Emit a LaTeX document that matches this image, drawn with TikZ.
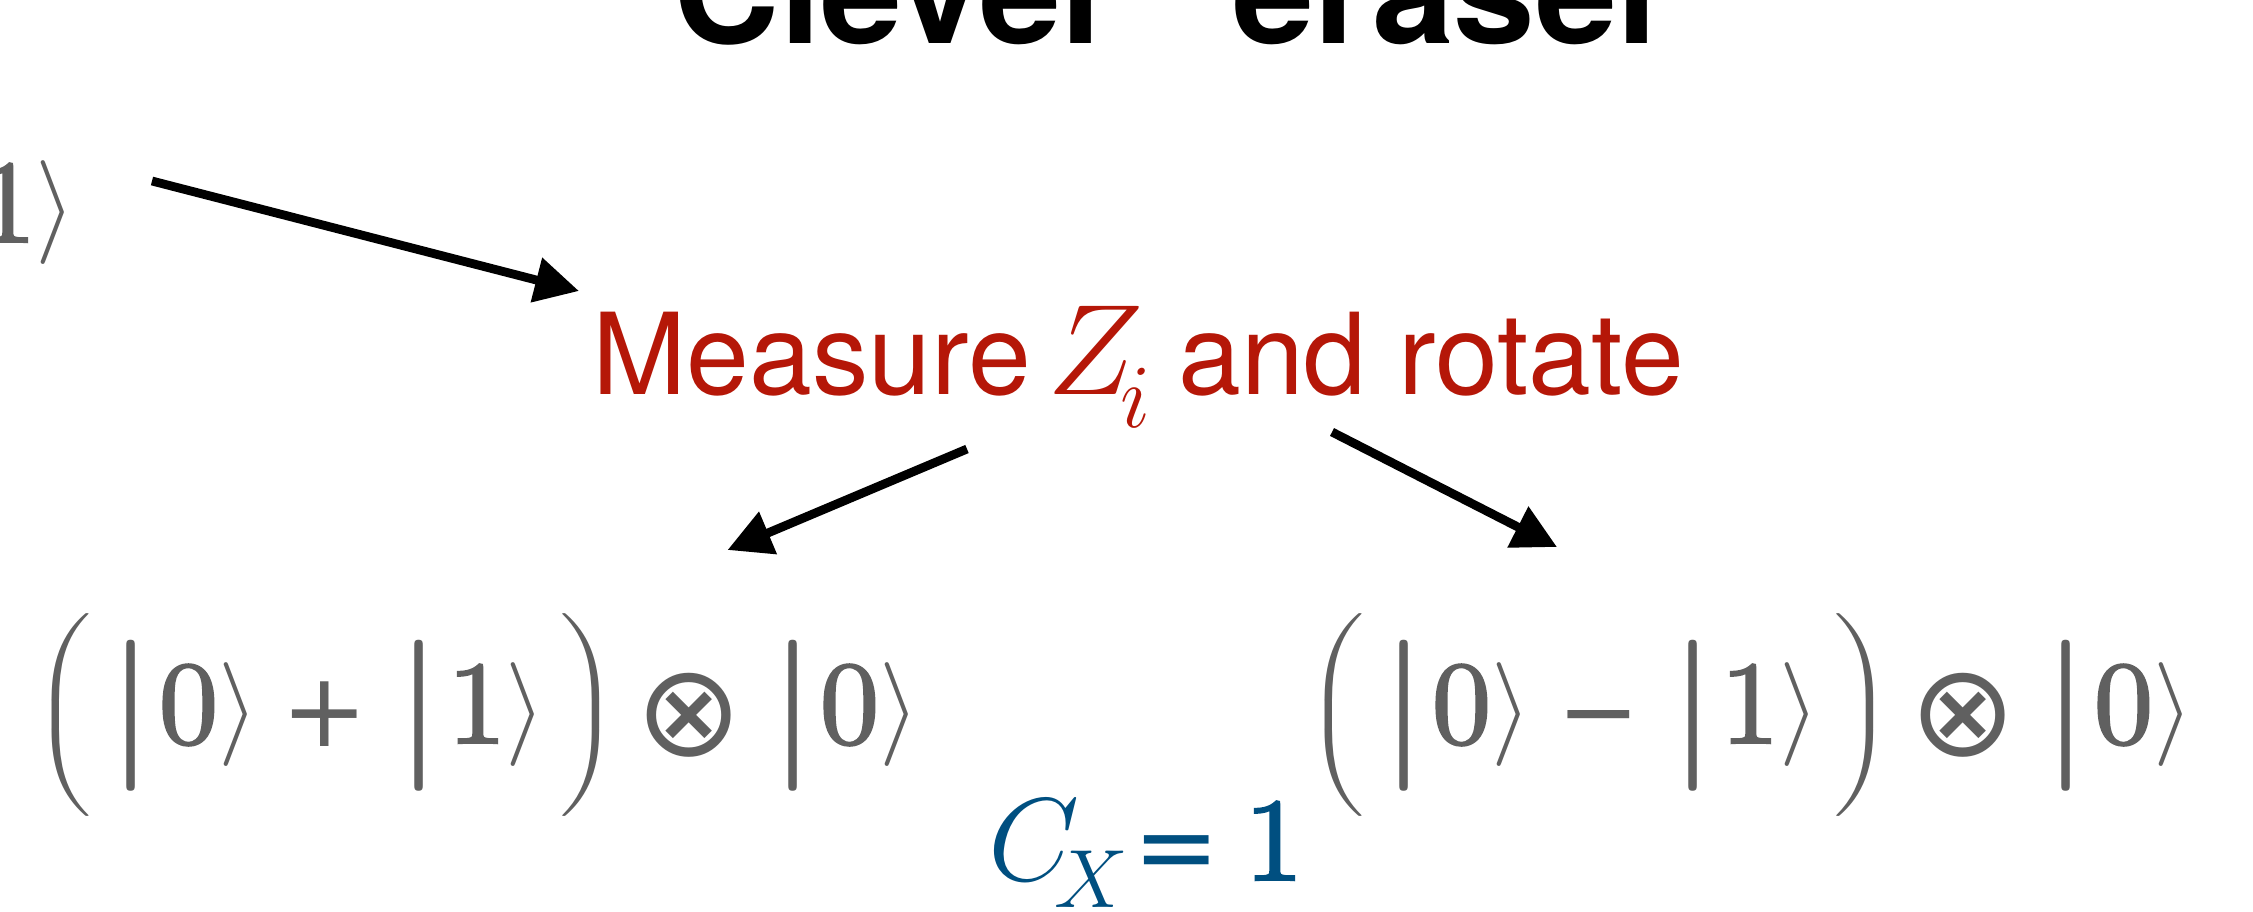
\RequirePackage{fix-cm}
\documentclass[tikz,border=0pt]{standalone}
\usepackage{amsmath,bm}
\usepackage{graphicx}
\usepackage[no-math]{fontspec}
\newfontfamily\heros{TeX Gyre Heros}
\newfontfamily\dvs{DejaVu Sans}
\newfontfamily\lmd{lmroman10-regular}[Extension=.otf,FakeBold=2]
\usetikzlibrary{arrows.meta}
\definecolor{ketgray}{RGB}{96,96,96}
\definecolor{mred}{RGB}{181,23,8}
\definecolor{cblue}{RGB}{0,79,128}
\newcommand\kfont{\fontsize{59}{60}\selectfont}
\newcommand\kbar{\scalebox{1.8}[1.28]{$|$}}
\newcommand\kang{\scalebox{0.88}{$\rangle$}}
\newcommand\klp{\scalebox{1.35}[0.97]{$\Big($}}
\newcommand\krp{\scalebox{1.35}[0.97]{$\Big)$}}
\newcommand\kplus{{\dvs\fontsize{51.6}{60}\selectfont +}}
\newcommand\kminus{{\dvs\fontsize{49.3}{60}\selectfont −}}
\newcommand\keq{{\dvs\fontsize{51.6}{60}\selectfont =}}
\newcommand\kotimes{{\dvs\fontsize{64}{70}\selectfont ⊗}}
\begin{document}
\begin{tikzpicture}[x=0.5pt,y=-0.5pt,
  gl/.style={inner sep=0pt,outer sep=0pt,text=ketgray,font=\kfont},
  dg/.style={gl,anchor=base,font=\lmd\kfont},
  arr/.style={line width=4.4pt,-{Triangle[length=22pt,width=22pt]}}]
\useasboundingbox (0,0) rectangle (2253,911);
\clip (0,0) rectangle (2253,911);
\fill[white] (0,0) rectangle (2253,911);
% title
\node[inner sep=0pt,anchor=base west,font=\heros\bfseries\fontsize{73.5}{80}\selectfont] (title) at (600,43) {“Clever” eraser};
% top-left cut ket
\node[dg] (t1) at (7,242) {1};
\node[gl] (t2) at (56,213) {\kang};
% red label
\node[inner sep=0pt,anchor=base west,text=mred,font=\heros\fontsize{56.5}{60}\selectfont] (meas) at (592,394) {Measure \kern-7.5pt{\fontsize{64.5}{70}\selectfont$Z_{\kern-6.5pt\lower7pt\hbox{$\scriptstyle i$}}$}\kern-2.5pt{} and rotate};
% left formula
\node[gl] (la) at (62,715) {\klp};
\node[gl] (lb) at (130.5,715.5) {\kbar};
\node[dg] (lc) at (188.5,743) {0};
\node[gl] (ld) at (238.5,715) {\kang};
\node[gl,anchor=north] (le) at (324.5,682) {\kplus};
\node[gl] (lf) at (419,715.5) {\kbar};
\node[dg] (lg) at (477,743) {1};
\node[gl] (lh) at (526,715) {\kang};
\node[gl] (li) at (590,715) {\krp};
\node[gl,anchor=north] (lj) at (689.5,673) {\kotimes};
\node[gl] (lk) at (792.5,715.5) {\kbar};
\node[dg] (ll) at (849.5,743) {0};
\node[gl] (lm) at (900,715) {\kang};
% right formula
\node[gl] (ra) at (1334.5,715) {\klp};
\node[gl] (rb) at (1404,715.5) {\kbar};
\node[dg] (rc) at (1461.5,743) {0};
\node[gl] (rd) at (1511.5,715) {\kang};
\node[gl,anchor=north] (re) at (1599,710) {\kminus};
\node[gl] (rf) at (1692.5,715.5) {\kbar};
\node[dg] (rg) at (1750,743) {1};
\node[gl] (rh) at (1800,715) {\kang};
\node[gl] (ri) at (1864,715) {\krp};
\node[gl,anchor=north] (rj) at (1963,673) {\kotimes};
\node[gl] (rk) at (2066,715.5) {\kbar};
\node[dg] (rl) at (2123.5,743) {0};
\node[gl] (rm) at (2173.5,715) {\kang};
% C_X = 1
\node[gl,text=cblue,anchor=base west] (cx) at (988,880) {$C_{\kern-8pt\lower5pt\hbox{$\scriptstyle X$}}$};
\node[gl,text=cblue,anchor=north] (eq) at (1176.5,836) {\keq};
\node[dg,text=cblue] (one) at (1274,880) {1};
% arrows
\coordinate (a1s) at (152,181);
\coordinate (a1e) at (579,291);
\coordinate (a2s) at (967,449);
\coordinate (a2e) at (727.5,550);
\coordinate (a3s) at (1332,432);
\coordinate (a3e) at (1557,547);
\draw[arr] (a1s) -- (a1e);
\draw[arr] (a2s) -- (a2e);
\draw[arr] (a3s) -- (a3e);
\end{tikzpicture}
\end{document}
